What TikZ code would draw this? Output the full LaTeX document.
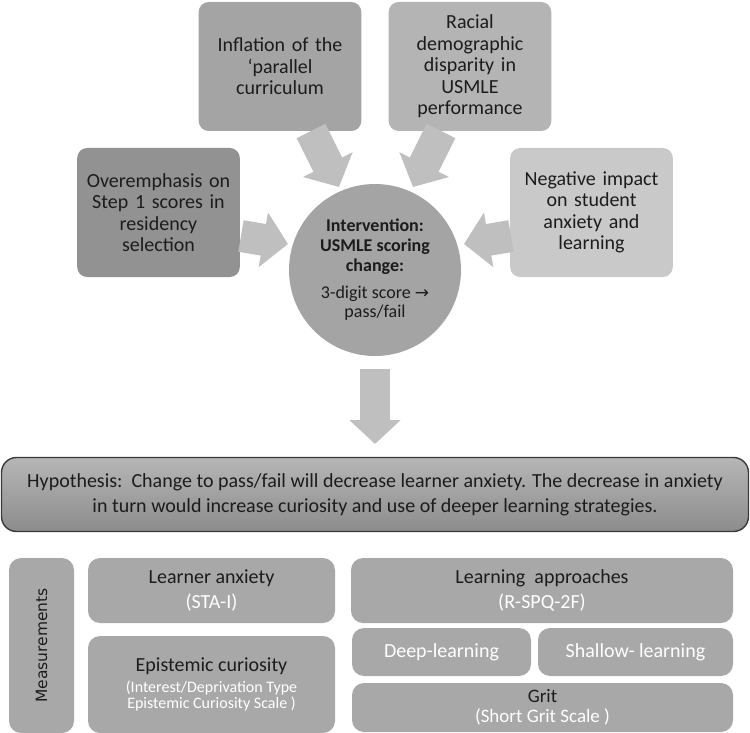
\documentclass[tikz,border=0pt]{standalone}
\usepackage{fontspec}
\setmainfont{Carlito}
\newfontfamily\dejavu{DejaVu Sans}
\usepackage{xcolor}
\usepackage{tikz}
\usetikzlibrary{shapes, arrows.meta, calc}

\definecolor{ovrgray}{HTML}{929292}
\definecolor{inflgray}{HTML}{A4A4A4}
\definecolor{racegray}{HTML}{B4B4B4}
\definecolor{neggray}{HTML}{C9C9C9}
\definecolor{circgray}{HTML}{A4A4A4}
\definecolor{arrowgray}{HTML}{BFBFBF}
\definecolor{measgray}{HTML}{A8A8A8}
\definecolor{hyptop}{HTML}{B6B6B6}
\definecolor{hypbot}{HTML}{8C8C8C}
\definecolor{hypline}{HTML}{3A3A3A}
\definecolor{ink}{HTML}{1C1C1C}

\begin{document}
\begin{tikzpicture}[x=1pt, y=-1pt,
      cause/.style={rounded corners=10pt, minimum width=162pt, minimum height=129pt,
        text width=156pt, align=center, text=ink, font=\fontsize{20}{21.5}\selectfont},
      fat arrow/.style={draw=arrowgray, line width=32pt, -{Triangle[width=54pt, length=25pt]}},
      measure/.style={rounded corners=12pt, fill=measgray, align=center, text=ink,
        font=\fontsize{20}{25}\selectfont}]

      \useasboundingbox (0,0) rectangle (750,733);

      % Causes
      \node[cause, fill=ovrgray] (ovr) at (158.5,212.5) {Overemphasis on\\ Step 1 scores in\\ residency\\ selection};
      \node[cause, fill=inflgray] (infl) at (280,66.5) {Inflation of the\\ ‘parallel\\ curriculum};
      \node[cause, fill=racegray] (race) at (470,66.5) {Racial\\ demographic\\ disparity in\\ USMLE\\ performance};
      \node[cause, fill=neggray] (neg) at (591.5,212.5) {Negative impact\\ on student\\ anxiety and\\ learning};

      % Intervention
      \node[circle, fill=circgray, minimum size=172pt, align=center, text=ink,
            font=\fontsize{18}{20}\selectfont] (interv) at (375,270)
            {\textbf{Intervention:}\\ \textbf{USMLE scoring}\\ \textbf{change:}\\[7pt]
             3-digit score {\dejavu\fontsize{17}{19}\selectfont →}\\[-1pt] pass/fail};

      % Block arrows into the intervention
      \coordinate (ovrtail) at (241,236);  \coordinate (ovrtip) at (288,244);
      \coordinate (negtail) at (511,236);  \coordinate (negtip) at (464,244);
      \coordinate (infltail) at (311,131); \coordinate (infltip) at (339,187);
      \coordinate (racetail) at (441,131); \coordinate (racetip) at (413,187);
      \coordinate (downtail) at (375,369); \coordinate (downtip) at (375,444);
      \draw[fat arrow] (ovrtail) -- (ovrtip);
      \draw[fat arrow] (negtail) -- (negtip);
      \draw[fat arrow] (infltail) -- (infltip);
      \draw[fat arrow] (racetail) -- (racetip);
      \draw[fat arrow, line width=30pt, -{Triangle[width=50pt, length=24pt]}] (downtail) -- (downtip);

      % Hypothesis
      \node[rounded corners=15pt, draw=hypline, line width=1.4pt, top color=hyptop, bottom color=hypbot,
            minimum width=747pt, minimum height=74pt, align=center, text=ink,
            font=\fontsize{20}{25}\selectfont] (hyp) at (375,494.5)
            {Hypothesis:\ \ Change to pass/fail will decrease learner anxiety. The decrease in anxiety\\
             in turn would increase curiosity and use of deeper learning strategies.};

      % Measurements
      \node[measure, minimum width=65pt, minimum height=175pt] (meas) at (41.5,645.5)
            {\rotatebox{90}{\dejavu\fontsize{15.5}{18}\selectfont Measurements}};
      \node[measure, minimum width=247pt, minimum height=65pt] (anx) at (211.5,590.5)
            {Learner anxiety\\ \textcolor{white}{(STA-I)}};
      \node[measure, minimum width=247pt, minimum height=97pt] (curio) at (211.5,684.5)
            {Epistemic curiosity\\[-4pt]
             \textcolor{white}{\fontsize{16}{16}\selectfont(Interest/Deprivation Type}\\[-9pt]
             \textcolor{white}{\fontsize{16}{16}\selectfont Epistemic Curiosity Scale )}};
      \node[measure, minimum width=382pt, minimum height=65pt] (appr) at (542,590.5)
            {Learning\ \ approaches\\ \textcolor{white}{(R-SPQ-2F)}};
      \node[measure, minimum width=179pt, minimum height=48pt, text=white] (deep) at (441.5,652)
            {Deep-learning};
      \node[measure, minimum width=195pt, minimum height=48pt, text=white] (shallow) at (635.5,652)
            {Shallow- learning};
      \node[measure, minimum width=381pt, minimum height=49pt, font=\fontsize{19}{25}\selectfont] (grit) at (542.5,707.5)
            {Grit\\[-5pt] \textcolor{white}{(Short Grit Scale )}};
    \end{tikzpicture}
\end{document}
